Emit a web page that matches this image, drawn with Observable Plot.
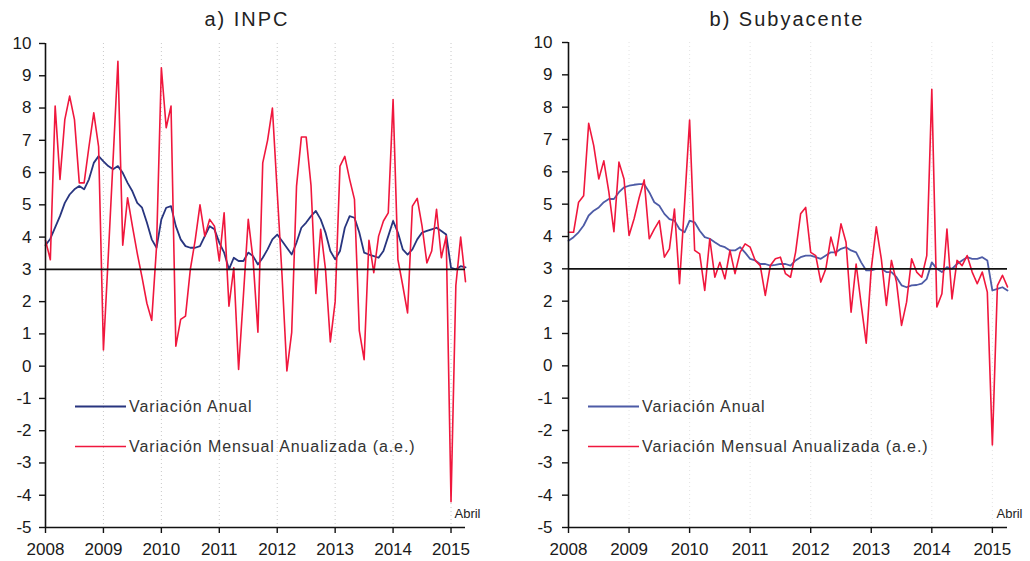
<!DOCTYPE html>
<html><head><meta charset="utf-8">
<script src="https://cdn.jsdelivr.net/npm/d3@7"></script>
<script src="https://cdn.jsdelivr.net/npm/@observablehq/plot@0.6"></script>
<style>
body{margin:0;background:#fff;font-family:"Liberation Sans",Arial,sans-serif;}
#wrap{position:relative;width:1030px;height:561px;overflow:hidden;background:#fff;}
.title{position:absolute;top:9px;font-size:20px;letter-spacing:2px;color:#222;white-space:nowrap;transform:translateX(-50%);line-height:1;}
.plot{position:absolute;top:30px;}
#overlay{position:absolute;left:0;top:0;pointer-events:none;}
</style></head>
<body><div id="wrap"></div>
<script>
// ---- data ----
const years = [2008, 2009, 2010, 2011, 2012, 2013, 2014, 2015];
const yTicks = [-5,-4,-3,-2,-1,0,1,2,3,4,5,6,7,8,9,10];
const seriesNames = ["Variación Anual", "Variación Mensual Anualizada (a.e.)"];
const panelTitles = ["a) INPC", "b) Subyacente"];
const lastLabel = "Abril";

// Panel a) INPC, Jan 2008 .. Apr 2015
const inpcAnual = [
 3.75,3.95,4.3,4.65,5.06,5.32,5.48,5.58,5.48,5.79,6.3,6.51,
 6.35,6.2,6.1,6.2,5.99,5.68,5.42,5.06,4.91,4.45,3.93,3.67,
 4.55,4.91,4.96,4.34,3.93,3.72,3.67,3.67,3.72,4.03,4.34,4.24,
 3.83,3.52,3.0,3.36,3.26,3.26,3.52,3.41,3.15,3.36,3.62,3.93,
 4.08,3.88,3.67,3.46,3.83,4.29,4.45,4.65,4.81,4.55,4.14,3.57,
 3.31,3.57,4.29,4.65,4.6,4.14,3.52,3.46,3.41,3.36,3.57,4.03,
 4.5,4.14,3.62,3.46,3.62,3.93,4.14,4.19,4.24,4.29,4.19,4.08,
 3.05,3.0,3.1,3.06];
const inpcMensual = [
 3.9,3.3,8.06,5.79,7.64,8.37,7.64,5.68,5.68,6.8,7.85,6.8,
 0.5,3.4,6.4,9.45,3.75,5.22,4.34,3.5,2.75,1.95,1.42,3.7,
 9.25,7.39,8.06,0.62,1.45,1.55,3.0,3.9,5.0,4.03,4.55,4.34,
 3.26,4.75,1.86,3.05,-0.1,2.2,4.55,3.3,1.05,6.3,7.0,8.0,
 5.4,2.8,-0.15,1.05,5.58,7.1,7.1,5.6,2.25,4.24,3.0,0.75,
 2.0,6.2,6.5,5.79,5.17,1.1,0.2,3.9,2.9,4.03,4.5,4.75,
 8.26,3.3,2.5,1.65,4.96,5.2,4.34,3.2,3.57,4.86,3.36,4.03,
 -4.2,2.5,4.0,2.62];

// Panel b) Subyacente
const subAnual = [
 3.87,3.98,4.13,4.34,4.65,4.8,4.9,5.06,5.16,5.16,5.37,5.52,
 5.57,5.6,5.62,5.62,5.37,5.06,4.95,4.7,4.54,4.49,4.23,4.13,
 4.49,4.44,4.18,3.98,3.93,3.82,3.72,3.67,3.57,3.57,3.67,3.5,
 3.31,3.26,3.15,3.15,3.1,3.12,3.15,3.15,3.1,3.26,3.36,3.41,
 3.41,3.36,3.31,3.41,3.51,3.51,3.62,3.67,3.57,3.51,3.2,2.95,
 2.95,3.0,3.0,2.9,2.9,2.74,2.49,2.43,2.49,2.5,2.54,2.69,
 3.2,3.0,2.9,3.05,3.0,3.15,3.26,3.36,3.31,3.31,3.36,3.26,
 2.33,2.38,2.43,2.33];
const subMensual = [
 4.13,4.13,5.06,5.26,7.5,6.81,5.78,6.34,5.37,4.15,6.3,5.78,
 4.03,4.55,5.2,5.75,3.93,4.23,4.49,3.36,3.62,4.85,2.54,5.0,
 7.6,3.57,3.46,2.33,3.93,2.74,3.2,2.69,3.57,2.85,3.51,3.77,
 3.67,3.26,3.1,2.18,3.1,3.31,3.36,2.85,2.74,3.51,4.7,4.9,
 3.51,3.41,2.59,3.0,3.98,3.41,4.39,3.82,1.66,3.15,1.9,0.7,
 3.0,4.3,3.3,1.87,3.26,2.59,1.25,1.97,3.31,2.9,2.74,3.41,
 8.55,1.82,2.23,4.23,2.07,3.26,3.1,3.41,2.9,2.54,2.9,2.28,
 -2.45,2.48,2.8,2.44];

const RED = "#f0173d";
const FONT = "'Liberation Sans', Arial, sans-serif";

function panel(anual, mensual, opts) {
  const idx = anual.map((_, i) => i);
  const xTicks = years.map(y => (y - years[0]) * 12);
  const n = anual.length - 1;
  return Plot.plot({
    width: 515, height: 531,
    marginLeft: opts.ml, marginRight: opts.mr, marginTop: opts.mt, marginBottom: 34,
    style: {fontFamily: FONT, fontSize: "17px", color: "#1a1a1a", background: "transparent", overflow: "visible"},
    x: {domain: [0, n]},
    y: {domain: [-5, 10]},
    marks: [
      Plot.ruleX(xTicks.slice(1), {stroke: "#c8c8c8", strokeDasharray: "1,3", strokeOpacity: opts.gridOp}),
      Plot.axisY({ticks: yTicks, tickSize: 6, tickPadding: opts.tp, tickFormat: d => String(d), stroke: "#111", strokeWidth: 1.4}),
      Plot.axisX({ticks: xTicks, tickSize: 6, tickPadding: 9, tickFormat: d => String(years[d / 12]), stroke: "#111", strokeWidth: 1.4}),
      Plot.line(idx, {x: i => i, y: i => anual[i], stroke: opts.blue, strokeWidth: 1.8}),
      Plot.line(idx, {x: i => i, y: i => mensual[i], stroke: RED, strokeWidth: 1.6}),
      Plot.ruleY([3], {stroke: "#111", strokeWidth: 1.6}),
      Plot.ruleY([-5], {stroke: "#111", strokeWidth: 1.6}),
      Plot.ruleX([0], {stroke: "#111", strokeWidth: 1.6}),
      Plot.text([lastLabel], {x: n, y: -4.58, text: d => d, dx: 2, fontSize: 13, fill: "#222"})
    ]
  });
}

const wrap = document.getElementById("wrap");
const configs = [
  {left: 0, ml: 45, mr: 50, mt: 13, tp: 8, blue: "#28357f", gridOp: 1, title: 247, legX: 75},
  {left: 515, ml: 53, mr: 23, mt: 12, tp: 10, blue: "#4d5ba6", gridOp: 0.5, title: 787, legX: 588}
];
const data = [[inpcAnual, inpcMensual], [subAnual, subMensual]];
configs.forEach((c, k) => {
  const t = document.createElement("div");
  t.className = "title"; t.style.left = c.title + "px"; t.textContent = panelTitles[k];
  wrap.appendChild(t);
  const p = panel(data[k][0], data[k][1], c);
  p.classList.add("plot"); p.style.left = c.left + "px";
  wrap.appendChild(p);
});

// legends
const ns = "http://www.w3.org/2000/svg";
const ov = document.createElementNS(ns, "svg");
ov.setAttribute("id", "overlay"); ov.setAttribute("width", 1030); ov.setAttribute("height", 561);
configs.forEach((c, k) => {
  [[406.5, c.blue], [446.5, RED]].forEach(([y, col], j) => {
    const l = document.createElementNS(ns, "line");
    l.setAttribute("x1", c.legX); l.setAttribute("x2", c.legX + 51);
    l.setAttribute("y1", y); l.setAttribute("y2", y);
    l.setAttribute("stroke", col); l.setAttribute("stroke-width", j ? 1.6 : 1.8);
    ov.appendChild(l);
    const tx = document.createElementNS(ns, "text");
    tx.setAttribute("x", c.legX + 54); tx.setAttribute("y", y + 5.8);
    tx.setAttribute("font-family", FONT); tx.setAttribute("font-size", 16);
    tx.setAttribute("letter-spacing", "0.9"); tx.setAttribute("fill", "#333");
    tx.textContent = seriesNames[j];
    ov.appendChild(tx);
  });
});
wrap.appendChild(ov);
</script></body></html>
